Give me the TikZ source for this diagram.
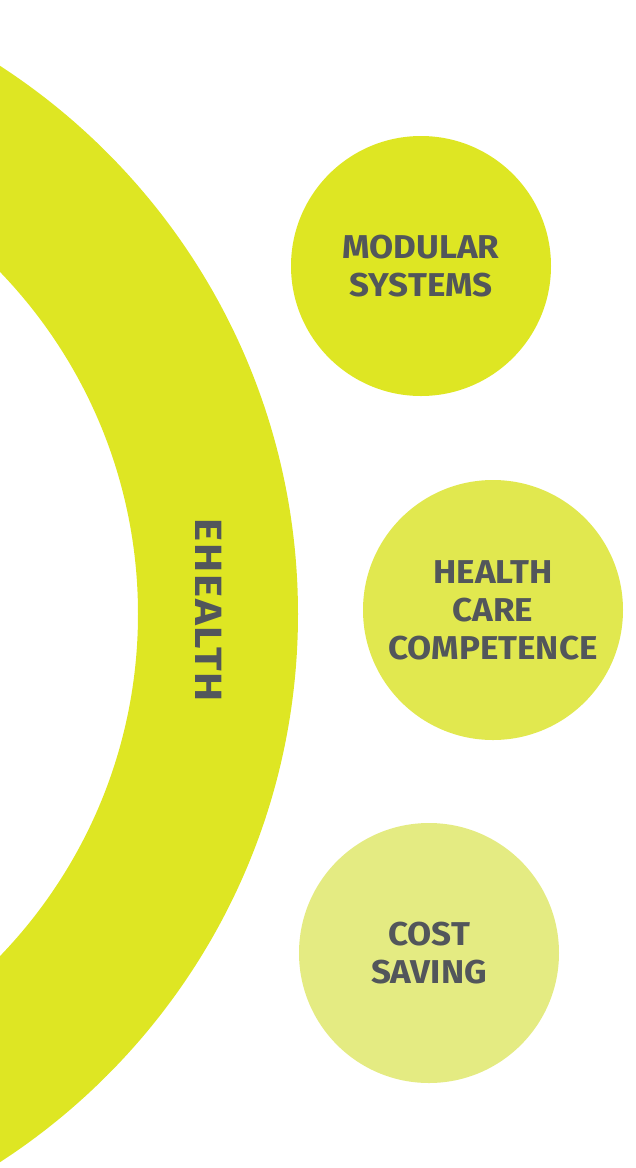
\documentclass[tikz,border=0pt]{standalone}
\usepackage{fontspec}
\newfontfamily\labelfont[FakeStretch=1.06]{Fira Sans}
\newfontfamily\ringfont[FakeStretch=1.15,LetterSpace=5]{Fira Sans}
\usepackage{tikz}
\usetikzlibrary{positioning}
\definecolor{ringlime}{HTML}{DEE623}
\definecolor{limeA}{HTML}{DEE623}
\definecolor{limeB}{HTML}{E1E84F}
\definecolor{limeC}{HTML}{E4EB82}
\definecolor{labelgray}{HTML}{52565B}
\tikzset{topic/.style = {circle,
                         minimum size=260pt,
                         inner sep=0pt,
                         text=labelgray,
                         align=center,
                         font=\labelfont\bfseries\fontsize{33}{38}\selectfont}}
\tikzstyle{ringlabel} = [text=labelgray,
                         rotate=-90,
                         font=\ringfont\bfseries\fontsize{38}{40}\selectfont]

\begin{document}
\begin{tikzpicture}[x=1pt,y=-1pt]

  \useasboundingbox (0,0) rectangle (635,1168);

  % Ring
  \begin{scope}
    \clip (0,0) rectangle (635,1168);
    \coordinate (hub) at (-355,614);
    \fill[ringlime, even odd rule] (hub) circle (653) (hub) circle (493);
  \end{scope}
  \node[ringlabel] (ehealth) at (209,610) {EHEALTH};

  % Nodes
  \node[topic, fill=limeA] (modular)    at (421,266) {MODULAR\\SYSTEMS};
  \node[topic, fill=limeB] (competence) at (493,610) {HEALTH\\CARE\\COMPETENCE};
  \node[topic, fill=limeC] (cost)       at (429,953) {COST\\SAVING};

\end{tikzpicture}
\end{document}
